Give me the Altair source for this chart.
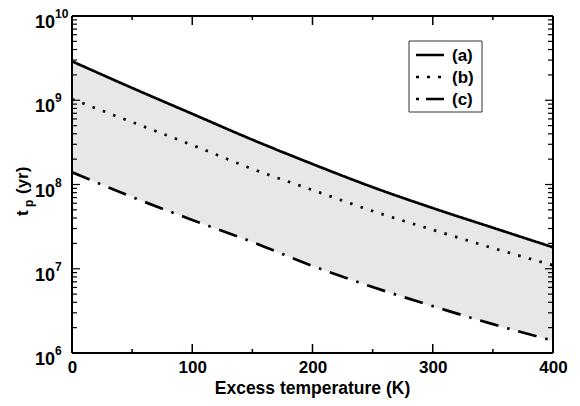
import altair as alt
import pandas as pd

# ---- data ----
temp = [0, 50, 100, 150, 200, 250, 300, 350, 400]
t_a = [2.9e9, 1.4e9, 6.9e8, 3.4e8, 1.75e8, 9.3e7, 5.25e7, 3.07e7, 1.8e7]
t_b = [1.03e9, 5.5e8, 2.94e8, 1.53e8, 8.6e7, 4.85e7, 2.9e7, 1.76e7, 1.1e7]
t_c = [1.4e8, 7.1e7, 3.8e7, 2.08e7, 1.08e7, 6.07e6, 3.6e6, 2.2e6, 1.4e6]
series_names = ["(a)", "(b)", "(c)"]

x_major = [0, 100, 200, 300, 400]
x_minor = [50, 150, 250, 350]
y_major = [1e6, 1e7, 1e8, 1e9, 1e10]
y_exp = ["6", "7", "8", "9", "10"]
y_minor = [k * 10 ** d for d in range(6, 10) for k in range(2, 10)]
x_title = "Excess temperature (K)"

W, H = 481, 337
FONT = "Liberation Sans"
DASHES = [[1, 0], [2.5, 8.5], [19, 9, 2.5, 9]]
LEG_DASHES = [[1, 0], [3, 8], [3, 7, 18, 9]]

wide = pd.DataFrame({"temp": temp, "a": t_a, "b": t_b, "c": t_c})
long = pd.DataFrame({
    "temp": temp * 3,
    "t": t_a + t_b + t_c,
    "series": [series_names[0]] * len(temp) + [series_names[1]] * len(temp) + [series_names[2]] * len(temp),
})

xs = alt.Scale(domain=[0, 400], nice=False, zero=False)
ys = alt.Scale(type="log", domain=[1e6, 1e10], nice=False)
xaxis = alt.Axis(values=x_major, title=None, ticks=False, domain=False,
                 grid=False, labelFont=FONT, labelFontSize=17, labelFontWeight="bold",
                 labelColor="black", labelPadding=6, labelFlush=False)

X = lambda: alt.X("temp:Q", scale=xs, axis=xaxis)

area = alt.Chart(wide).mark_area(color="#e6e7e8", interpolate="monotone").encode(
    x=X(), y=alt.Y("a:Q", scale=ys, axis=None), y2="c:Q")

lines = alt.Chart(long).mark_line(color="black", strokeWidth=2.7, interpolate="monotone",
                                  strokeCap="butt").encode(
    x=X(), y=alt.Y("t:Q", scale=ys, axis=None),
    strokeDash=alt.StrokeDash("series:N",
                              scale=alt.Scale(domain=series_names, range=DASHES),
                              legend=None))

xmaj = pd.DataFrame({"temp": x_major})
xmin = pd.DataFrame({"temp": x_minor})
ymaj = pd.DataFrame({"t": y_major, "e": y_exp})
ymin = pd.DataFrame({"t": y_minor})
one = pd.DataFrame({"k": [0]})


def xticks(df, length):
    bot = alt.Chart(df).mark_rule(color="black", strokeWidth=1.5).encode(
        x=X(), y=alt.value(H), y2=alt.value(H - length))
    top = alt.Chart(df).mark_rule(color="black", strokeWidth=1.5).encode(
        x=X(), y=alt.value(0), y2=alt.value(length))
    return [bot, top]


def yticks(df, length):
    left = alt.Chart(df).mark_rule(color="black", strokeWidth=1.2).encode(
        y=alt.Y("t:Q", scale=ys, axis=None), x=alt.value(0), x2=alt.value(length))
    right = alt.Chart(df).mark_rule(color="black", strokeWidth=1.2).encode(
        y=alt.Y("t:Q", scale=ys, axis=None), x=alt.value(W), x2=alt.value(W - length))
    return [left, right]


ylab10 = alt.Chart(ymaj).mark_text(text="10", font=FONT, fontSize=18, fontWeight="bold",
                                   align="right", baseline="alphabetic", dy=12,
                                   color="black").encode(
    y=alt.Y("t:Q", scale=ys, axis=None), x=alt.value(-17))
ylabexp = alt.Chart(ymaj).mark_text(font=FONT, fontSize=12, fontWeight="bold",
                                    align="left", baseline="alphabetic", dy=2,
                                    color="black").encode(
    y=alt.Y("t:Q", scale=ys, axis=None), x=alt.value(-17), text="e:N")


def ytext(txt, size, px, py):
    return alt.Chart(one).mark_text(text=txt, font=FONT, fontSize=size, fontWeight="bold",
                                    angle=270, align="left", baseline="alphabetic",
                                    color="black").encode(
        x=alt.value(px - 72), y=alt.value(py - 16))


ytitle = [ytext("t", 17, 28, 216), ytext("p", 12, 33, 207), ytext("(yr)", 17, 28, 194)]

xtitle = alt.Chart(one).mark_text(text=x_title, font=FONT, fontSize=17.5, fontWeight="bold",
                                  align="center", baseline="alphabetic", color="black").encode(
    x=alt.value(W / 2), y=alt.value(394 - 16))


def frame_rule(**enc):
    return alt.Chart(one).mark_rule(color="black", strokeWidth=2).encode(**enc)


frame = [
    frame_rule(x=alt.value(0), y=alt.value(0), y2=alt.value(H)),
    frame_rule(x=alt.value(W), y=alt.value(0), y2=alt.value(H)),
    frame_rule(y=alt.value(0), x=alt.value(0), x2=alt.value(W)),
    frame_rule(y=alt.value(H), x=alt.value(0), x2=alt.value(W)),
]

# ---- legend drawn by hand ----
leg_box = alt.Chart(one).mark_rect(fill="white", stroke="#333333", strokeWidth=1).encode(
    x=alt.value(409 - 72), x2=alt.value(482 - 72), y=alt.value(41 - 16), y2=alt.value(112 - 16))
leg_rows = [55, 77, 99]
leg = [leg_box]
for name, dash, ry in zip(series_names, LEG_DASHES, leg_rows):
    leg.append(alt.Chart(one).mark_rule(color="black", strokeWidth=2.7, strokeDash=dash,
                                        strokeCap="butt").encode(
        x=alt.value(416 - 72), x2=alt.value(444 - 72), y=alt.value(ry - 16)))
    leg.append(alt.Chart(one).mark_text(text=name, font=FONT, fontSize=17, fontWeight="bold",
                                        align="left", baseline="middle", color="black").encode(
        x=alt.value(452 - 72), y=alt.value(ry - 16 + 1)))

chart = alt.layer(
    area, lines,
    *xticks(xmaj, 9), *xticks(xmin, 4),
    *yticks(ymaj, 8), *yticks(ymin, 5),
    ylab10, ylabexp, *ytitle, xtitle,
    *frame, *leg,
).properties(
    width=W, height=H,
    autosize=alt.AutoSizeParams(type="none"),
    padding={"left": 64, "top": 8, "right": 15, "bottom": 45},
    background="white",
).configure_view(stroke=None)

chart.save("out.html", embed_options={"renderer": "svg", "actions": False})
